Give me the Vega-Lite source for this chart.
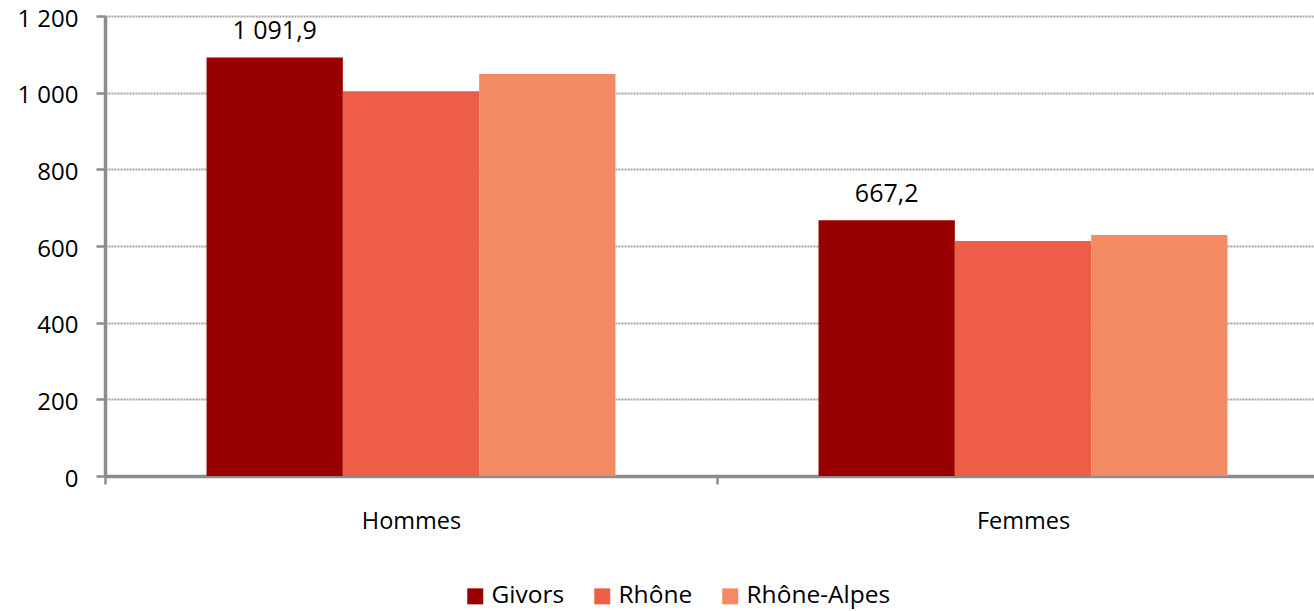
{
  "$schema": "https://vega.github.io/schema/vega-lite/v6.json",
  "autosize": "none",
  "width": 1209,
  "height": 460,
  "padding": {"left": 105, "top": 16, "right": 0, "bottom": 135},
  "background": "white",
  "config": {
    "locale": {
      "number": {"decimal": ",", "thousands": "\u00a0", "grouping": [3], "currency": ["", " €"]}
    },
    "font": "Open Sans",
    "view": {"stroke": null}
  },
  "data": {
    "values": [
      {"sexe": "Hommes", "zone": "Givors", "taux": 1091.9},
      {"sexe": "Hommes", "zone": "Rhône", "taux": 1004},
      {"sexe": "Hommes", "zone": "Rhône-Alpes", "taux": 1049},
      {"sexe": "Femmes", "zone": "Givors", "taux": 667.2},
      {"sexe": "Femmes", "zone": "Rhône", "taux": 613},
      {"sexe": "Femmes", "zone": "Rhône-Alpes", "taux": 629}
    ]
  },
  "encoding": {
    "x": {
      "field": "sexe",
      "type": "nominal",
      "sort": ["Hommes", "Femmes"],
      "scale": {"range": [0, 1224], "paddingInner": 0, "paddingOuter": 0},
      "axis": {
        "title": null,
        "labelAngle": 0,
        "labelFont": "Open Sans",
        "labelFontSize": 23.5,
        "labelColor": "#000000",
        "labelPadding": 25,
        "tickBand": "extent",
        "tickSize": 8,
        "tickWidth": 2.5,
        "tickColor": "#8c8c8c",
        "domainColor": "#8c8c8c",
        "domainWidth": 3.5,
        "grid": false
      }
    },
    "xOffset": {
      "field": "zone",
      "type": "nominal",
      "sort": ["Givors", "Rhône", "Rhône-Alpes"],
      "scale": {"paddingInner": 0, "paddingOuter": 0.745}
    },
    "y": {
      "field": "taux",
      "type": "quantitative",
      "scale": {"domain": [0, 1200], "nice": false},
      "axis": {
        "title": null,
        "values": [0, 200, 400, 600, 800, 1000, 1200],
        "format": ",d",
        "labelFont": "Open Sans",
        "labelFontSize": 24,
        "labelColor": "#000000",
        "labelPadding": 18,
        "labelOffset": 3,
        "tickSize": 9,
        "tickWidth": 2.5,
        "tickColor": "#8c8c8c",
        "domainColor": "#8c8c8c",
        "domainWidth": 3.5,
        "grid": true,
        "gridColor": "#a3a3a3",
        "gridWidth": 2,
        "gridDash": [2, 1]
      }
    }
  },
  "layer": [
    {
      "mark": {"type": "bar"},
      "encoding": {
        "color": {
          "field": "zone",
          "type": "nominal",
          "sort": ["Givors", "Rhône", "Rhône-Alpes"],
          "scale": {
            "domain": ["Givors", "Rhône", "Rhône-Alpes"],
            "range": ["#990000", "#EE5E46", "#F28B61"]
          },
          "legend": {
            "title": null,
            "orient": "none",
            "legendX": 358,
            "legendY": 568,
            "direction": "horizontal",
            "symbolType": "square",
            "symbolSize": 256,
            "symbolStrokeWidth": 0,
            "symbolOffset": 0,
            "labelFont": "Open Sans",
            "labelFontSize": 24.5,
            "labelColor": "#000000",
            "labelOffset": 4,
            "columnPadding": 25
          }
        }
      }
    },
    {
      "transform": [{"filter": "datum.zone === 'Givors'"}],
      "mark": {"type": "text", "baseline": "alphabetic", "dy": -18, "fontSize": 25, "font": "Open Sans", "color": "#000000"},
      "encoding": {
        "text": {"field": "taux", "type": "quantitative", "format": ",.1f"}
      }
    }
  ]
}
